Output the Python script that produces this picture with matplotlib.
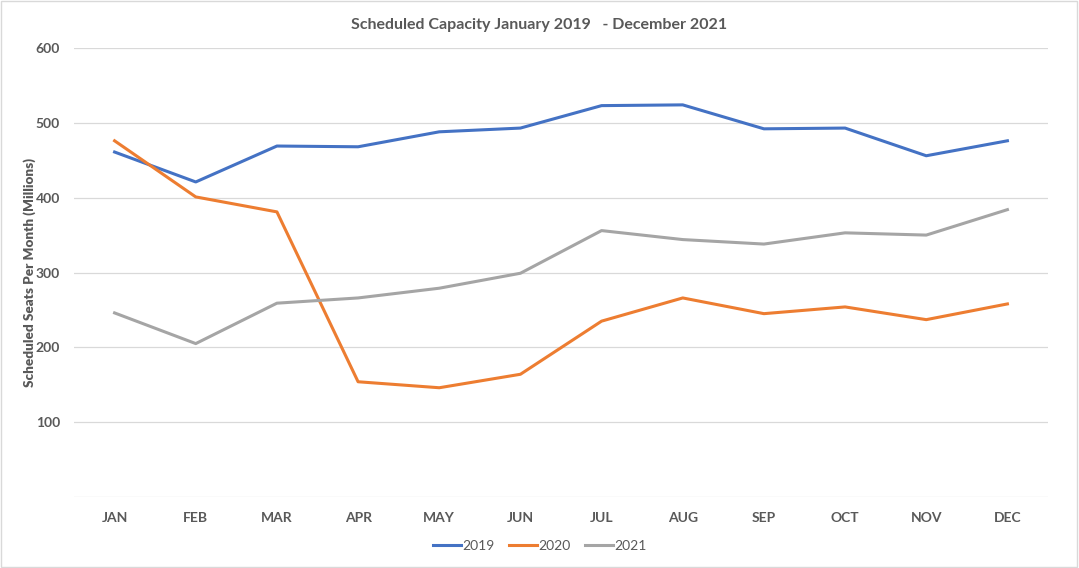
import matplotlib.pyplot as plt
from matplotlib.patches import Rectangle

months = ["JAN", "FEB", "MAR", "APR", "MAY", "JUN",
          "JUL", "AUG", "SEP", "OCT", "NOV", "DEC"]
seats_2019 = [461, 421, 469, 468, 488, 493, 523, 524, 492, 493, 456, 476]
seats_2020 = [476, 401, 381, 154, 146, 164, 235, 266, 245, 254, 237, 258]
seats_2021 = [246, 205, 259, 266, 279, 299, 356, 344, 338, 353, 350, 384]

series = [("2019", seats_2019, "#4472C4"),
          ("2020", seats_2020, "#ED7D31"),
          ("2021", seats_2021, "#A5A5A5")]

plt.rcParams['font.family'] = ['Lato', 'DejaVu Sans']
text_col = "#595959"

fig = plt.figure(figsize=(10.79, 5.68), dpi=100)
ax = fig.add_axes([74 / 1079, 1 - 497 / 568, 974 / 1079, 449 / 568])

x = list(range(len(months)))
for name, vals, col in series:
    ax.plot(x, vals, color=col, lw=2.2, label=name, solid_joinstyle='round')

ax.set_xlim(-0.5, len(months) - 0.5)
ax.set_ylim(0, 600)
ax.set_yticks([0, 100, 200, 300, 400, 500, 600])
ax.set_yticklabels(["", "100", "200", "300", "400", "500", "600"])
ax.set_xticks(x)
ax.set_xticklabels(months)
ax.grid(axis='y', color="#D9D9D9", lw=0.9)
ax.set_axisbelow(True)
for s in ax.spines.values():
    s.set_visible(False)
ax.tick_params(length=0, labelsize=10, labelcolor=text_col)
ax.tick_params(axis='y', pad=10)
ax.tick_params(axis='x', pad=11)
for lbl in ax.get_xticklabels() + ax.get_yticklabels():
    lbl.set_fontweight('bold')

ax.set_ylabel("Scheduled Seats Per Month (Millions)", fontsize=9.7,
              fontweight='heavy', color=text_col)
ax.yaxis.set_label_coords((36 - 74) / 974, 0.5)
fig.text(0.5, 1 - 25 / 568, "Scheduled Capacity January 2019   - December 2021",
         ha='center', va='center', fontsize=11.5, fontweight='bold', color=text_col)

fig.legend(loc='center', bbox_to_anchor=(540 / 1079, 1 - 546 / 568), ncol=3,
           frameon=False, fontsize=10, handlelength=2.0, handletextpad=0.15,
           columnspacing=1.0, labelcolor=text_col)

fig.patches.append(Rectangle((0.001, 0.001), 0.997, 0.997, transform=fig.transFigure,
                             fill=False, edgecolor="#D9D9D9", lw=1))

fig.savefig("out.png", dpi=100)
